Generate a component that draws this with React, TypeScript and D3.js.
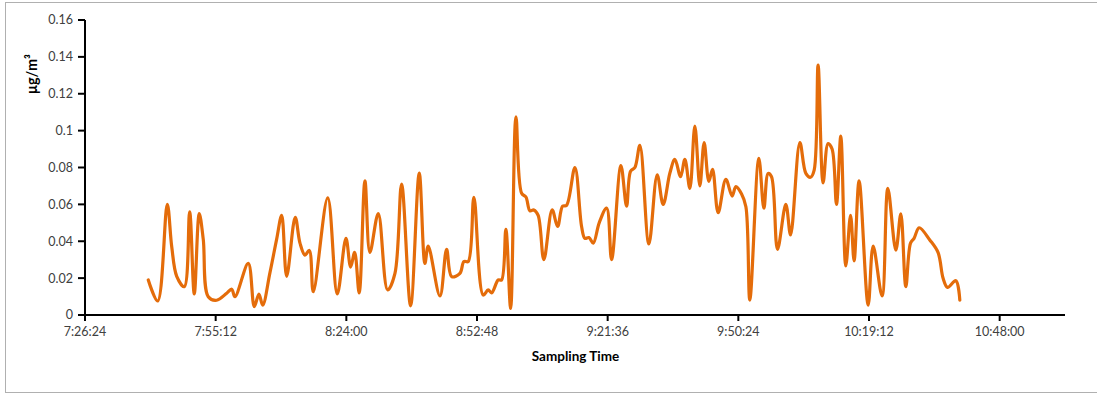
import React from "react";
import * as d3 from "d3";

const sampleTimes = [
  "7:40:21","7:42:25","7:44:32","7:45:31","7:46:37","7:48:17","7:49:28","7:50:29","7:51:35","7:52:28",
  "7:53:34","7:55:25","7:57:38","7:58:44","7:59:27","8:02:23","8:03:43","8:04:44","8:05:34","8:07:10",
  "8:08:38","8:09:45","8:10:51","8:12:44","8:13:47","8:14:53","8:15:50","8:16:43","8:19:54","8:22:00",
  "8:23:55","8:24:57","8:25:50","8:26:50","8:28:06","8:29:12","8:31:02","8:33:06","8:34:43","8:36:11",
  "8:38:10","8:40:04","8:41:19","8:42:03","8:44:38","8:46:06","8:47:13","8:49:02","8:49:55","8:50:52",
  "8:52:07","8:54:10","8:55:16","8:56:01","8:57:29","8:58:13","8:59:10","9:00:13","9:01:23","9:02:38",
  "9:03:35","9:04:28","9:05:20","9:06:17","9:07:32","9:09:22","9:10:34","9:11:40","9:12:33","9:14:23",
  "9:15:51","9:16:35","9:17:28","9:18:25","9:19:44","9:21:22","9:22:28","9:24:31","9:25:46","9:26:39",
  "9:27:36","9:28:42","9:30:41","9:32:31","9:33:50","9:35:19","9:36:25","9:37:40","9:38:37","9:39:43",
  "9:40:49","9:41:55","9:42:52","9:43:54","9:44:43","9:45:57","9:47:39","9:49:02","9:49:52","9:51:07",
  "9:52:04","9:52:56","9:54:55","9:56:02","9:56:58","9:57:43","9:59:02","10:00:52","10:01:55","10:03:58",
  "10:05:17","10:06:19","10:07:07","10:07:59","10:09:05","10:10:11","10:11:04","10:12:02","10:12:59","10:14:05",
  "10:15:08","10:15:55","10:17:01","10:19:01","10:20:07","10:22:05","10:23:21","10:25:07","10:26:13","10:27:19",
  "10:28:21","10:29:08","10:30:15","10:32:36","10:34:26","10:35:32","10:36:30","10:38:20","10:39:13",
];

const concentrations = [
  0.019,0.0076,0.06,0.037,0.021,0.0154,0.056,0.0114,0.055,0.041,
  0.0099,0.008,0.0118,0.014,0.0099,0.028,0.0045,0.0114,0.0054,0.023,
  0.041,0.054,0.021,0.053,0.039,0.0325,0.035,0.0126,0.0635,0.0114,
  0.0416,0.026,0.034,0.012,0.0728,0.034,0.055,0.0136,0.0226,0.071,
  0.005,0.077,0.028,0.0374,0.0103,0.0356,0.0208,0.0226,0.029,0.029,
  0.0638,0.0108,0.0136,0.012,0.019,0.019,0.0464,0.0036,0.1075,0.066,
  0.064,0.0565,0.057,0.054,0.03,0.057,0.048,0.059,0.0595,0.08,
  0.048,0.0416,0.042,0.039,0.05,0.058,0.03,0.081,0.059,0.078,
  0.08,0.092,0.0385,0.076,0.06,0.077,0.0844,0.075,0.0844,0.0687,
  0.1025,0.07,0.0935,0.0725,0.079,0.0555,0.0736,0.0645,0.0696,0.0656,
  0.0587,0.0081,0.085,0.0579,0.0768,0.075,0.0356,0.06,0.0434,0.0935,
  0.0768,0.0747,0.0786,0.1356,0.0717,0.093,0.09,0.06,0.097,0.0266,
  0.054,0.0294,0.0728,0.0054,0.0374,0.0103,0.0687,0.0352,0.0548,0.0154,
  0.039,0.0416,0.0473,0.0407,0.0338,0.0199,0.015,0.0186,0.0081,
];

const xTickLabels = ["7:26:24","7:55:12","8:24:00","8:52:48","9:21:36","9:50:24","10:19:12","10:48:00"];
const xDomainLabels = ["7:26:24","11:02:24"];
const yTicks = [0,0.02,0.04,0.06,0.08,0.1,0.12,0.14,0.16];
const yLabel = "μg/m³";
const xLabel = "Sampling Time";

const parseT = (s: string) => {
  const [h, m, sec] = s.split(":").map(Number);
  return new Date(2020, 0, 1, h, m, sec);
};

export default function App() {
  const W = 1097, H = 394;
  const left = 85, right = 1065, top = 20, bottom = 315;
  const x = d3.scaleTime().domain(xDomainLabels.map(parseT)).range([left, right]);
  const y = d3.scaleLinear().domain([0, 0.16]).range([bottom, top]);
  const data = sampleTimes.map((t, i) => ({ t: parseT(t), v: concentrations[i] }));
  const line = d3.line<{ t: Date; v: number }>()
    .x(d => x(d.t))
    .y(d => y(d.v))
    .curve(d3.curveCatmullRom.alpha(0.5));
  const font = "Lato, 'Open Sans', sans-serif";
  return (
    <svg width={W} height={H} style={{ position: "absolute", left: 0, top: 0, background: "#fff" }}>
      <rect x={5.5} y={2.5} width={1100} height={390} fill="#fff" stroke="#b0b0b0" strokeWidth={1} />
      {yTicks.map(v => (
        <g key={v}>
          <line x1={left - 7} x2={left} y1={y(v)} y2={y(v)} stroke="#000" strokeWidth={2} />
          <text x={left - 12} y={y(v)} dy="0.35em" textAnchor="end" fontFamily={font} fontSize={12.5} fill="#404040">
            {String(+v.toFixed(2))}
          </text>
        </g>
      ))}
      {xTickLabels.map(s => (
        <g key={s}>
          <line x1={x(parseT(s))} x2={x(parseT(s))} y1={bottom} y2={bottom + 6} stroke="#000" strokeWidth={2} />
          <text x={x(parseT(s))} y={bottom + 21} textAnchor="middle" fontFamily={font} fontSize={12.5} fill="#404040">
            {s}
          </text>
        </g>
      ))}
      <path d={line(data) || ""} fill="none" stroke="#E46C0A" strokeWidth={3.2} strokeLinejoin="round" strokeLinecap="round" />
      <line x1={left} x2={left} y1={top} y2={bottom} stroke="#000" strokeWidth={2} />
      <line x1={left} x2={right} y1={bottom} y2={bottom} stroke="#000" strokeWidth={2} />
      <text transform={`translate(37,74) rotate(-90)`} textAnchor="middle" fontFamily={font} fontSize={14.5} fontWeight="bold" fill="#000">
        {yLabel}
      </text>
      <text x={575.5} y={361} textAnchor="middle" fontFamily={font} fontSize={13.5} fontWeight="bold" fill="#000">
        {xLabel}
      </text>
    </svg>
  );
}
